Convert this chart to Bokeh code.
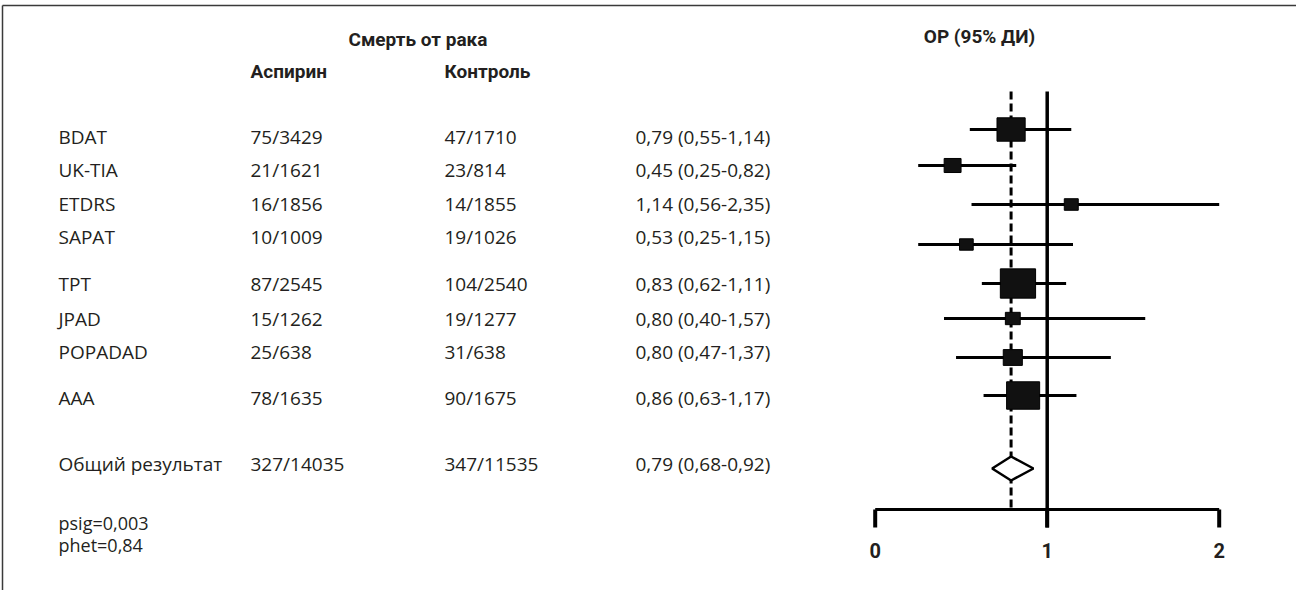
import numpy as np
from bokeh.plotting import figure
from bokeh.models import Range1d, ColumnDataSource
from bokeh.core.properties import value
from bokeh.embed import file_html
from bokeh.resources import INLINE

# ---------------- data ----------------
studies = ["BDAT", "UK-TIA", "ETDRS", "SAPAT", "TPT", "JPAD", "POPADAD", "AAA"]
aspirin = ["75/3429", "21/1621", "16/1856", "10/1009", "87/2545", "15/1262", "25/638", "78/1635"]
control = ["47/1710", "23/814", "14/1855", "19/1026", "104/2540", "19/1277", "31/638", "90/1675"]
rr = [0.79, 0.45, 1.14, 0.53, 0.83, 0.80, 0.80, 0.86]
rr_lo = [0.55, 0.25, 0.56, 0.25, 0.62, 0.40, 0.47, 0.63]
rr_hi = [1.14, 0.82, 2.35, 1.15, 1.11, 1.57, 1.37, 1.17]
total_label = "Общий результат"
total_aspirin = "327/14035"
total_control = "347/11535"
total_rr, total_lo, total_hi = 0.79, 0.68, 0.92
p_sig = "psig=0,003"
p_het = "phet=0,84"
head_title = "Смерть от рака"
head_asp = "Аспирин"
head_ctl = "Контроль"
head_or = "ОР (95% ДИ)"
ticks = [0, 1, 2]
ref_value = 1

# ---------------- layout ----------------
W, H = 1296, 590
PX = 172.0          # pixels per unit of OR
ZERO = 882.7        # page x of OR = 0
XS = -(ZERO - 8) / PX
XE = XS + W / PX


def X(page_x):
    return XS + (page_x - 8) / PX


def Y(page_y):
    return page_y - 8


forest_rows = [137, 173, 212, 252, 291, 326, 365, 403]
table_rows = [144, 177, 211, 244, 291, 326, 359, 405]
total_forest_y = 476
total_table_y = 471
col_name, col_asp, col_ctl, col_or = 66, 258, 452, 643
axis_y = 517
top_y = 99

INK = "#231f20"
BODY = value("Open Sans")
BOLD = value("Roboto")

p = figure(width=W, height=H, x_range=Range1d(XS, XE), y_range=Range1d(H, 0),
           output_backend="svg", toolbar_location=None,
           x_axis_location=None, y_axis_location=None,
           min_border=0, min_border_left=0, min_border_right=0,
           min_border_top=0, min_border_bottom=0)
p.grid.visible = False
p.outline_line_color = None
p.background_fill_color = "white"

# frame lines (top and left)
p.segment(x0=[X(10), X(10)], y0=[Y(13), Y(13)], x1=[X(1312), X(10)], y1=[Y(13), Y(606)],
          line_color="#3a3a3a", line_width=1.5)

# ---------------- table text ----------------
fmt = lambda v: f"{v:.2f}".replace(".", ",")
or_text = [f"{fmt(a)} ({fmt(b)}-{fmt(c)})" for a, b, c in zip(rr, rr_lo, rr_hi)]
total_or_text = f"{fmt(total_rr)} ({fmt(total_lo)}-{fmt(total_hi)})"

ty = [Y(v) for v in table_rows] + [Y(total_table_y)]
names = studies + [total_label]
asp = aspirin + [total_aspirin]
ctl = control + [total_control]
ors = or_text + [total_or_text]

for col, texts in [(col_name, names), (col_asp, asp), (col_ctl, ctl), (col_or, ors)]:
    src = ColumnDataSource(dict(x=[X(col)] * len(texts), y=ty, t=texts))
    p.text(x="x", y="y", text="t", source=src, text_font=BODY, text_font_size="19px",
           text_color=INK, text_baseline="middle", text_align="left")

p.text(x=[X(col_name), X(col_name)], y=[Y(530), Y(552)], text=[p_sig, p_het],
       text_font=BODY, text_font_size="18px", text_color=INK,
       text_baseline="middle", text_align="left")

# headers
p.text(x=[X(356)], y=[Y(47)], text=[head_title], text_font=BOLD, text_font_size="19px",
       text_font_style="bold", text_color=INK, text_baseline="middle", text_align="left")
p.text(x=[X(col_asp), X(col_ctl)], y=[Y(79), Y(79)], text=[head_asp, head_ctl],
       text_font=BOLD, text_font_size="19px", text_font_style="bold", text_color=INK,
       text_baseline="middle", text_align="left")
p.text(x=[X(987)], y=[Y(44)], text=[head_or], text_font=BOLD, text_font_size="19px",
       text_font_style="bold", text_color=INK, text_baseline="middle", text_align="center")

# ---------------- forest ----------------
fy = [Y(v) for v in forest_rows]
xmax = ticks[-1]
hi_clip = [min(h, xmax) for h in rr_hi]
events = [int(a.split("/")[0]) + int(c.split("/")[0]) for a, c in zip(aspirin, control)]
sq_w = [2.55 * np.sqrt(e) for e in events]
sq_h = [0.83 * w for w in sq_w]

# reference lines
p.segment(x0=[total_rr], y0=[Y(top_y)], x1=[total_rr], y1=[Y(axis_y)],
          line_color="black", line_width=3, line_dash="8 4")
p.segment(x0=[ref_value], y0=[Y(top_y)], x1=[ref_value], y1=[Y(axis_y + 18)],
          line_color="black", line_width=3.5)

# CI lines and squares
p.segment(x0=rr_lo, y0=fy, x1=hi_clip, y1=fy, line_color="black", line_width=3)
p.rect(x=rr, y=fy, width=sq_w, height=sq_h, width_units="screen", height_units="screen",
       fill_color="#111111", line_color="black", line_width=1)

# overall diamond
dy = 12
p.patch(x=[total_lo, total_rr, total_hi, total_rr],
        y=[Y(total_forest_y), Y(total_forest_y) - dy, Y(total_forest_y), Y(total_forest_y) + dy],
        fill_color="white", line_color="black", line_width=2.5)

# axis
p.segment(x0=[ticks[0]], y0=[Y(axis_y)], x1=[ticks[-1]], y1=[Y(axis_y)],
          line_color="black", line_width=3)
p.segment(x0=ticks, y0=[Y(axis_y)] * len(ticks), x1=ticks, y1=[Y(axis_y + 18)] * len(ticks),
          line_color="black", line_width=4)
p.text(x=ticks, y=[Y(558)] * len(ticks), text=[str(t) for t in ticks], text_font=BOLD,
       text_font_size="20px", text_font_style="bold", text_color=INK,
       text_baseline="middle", text_align="center")

open("out.html", "w").write(file_html(p, INLINE))
